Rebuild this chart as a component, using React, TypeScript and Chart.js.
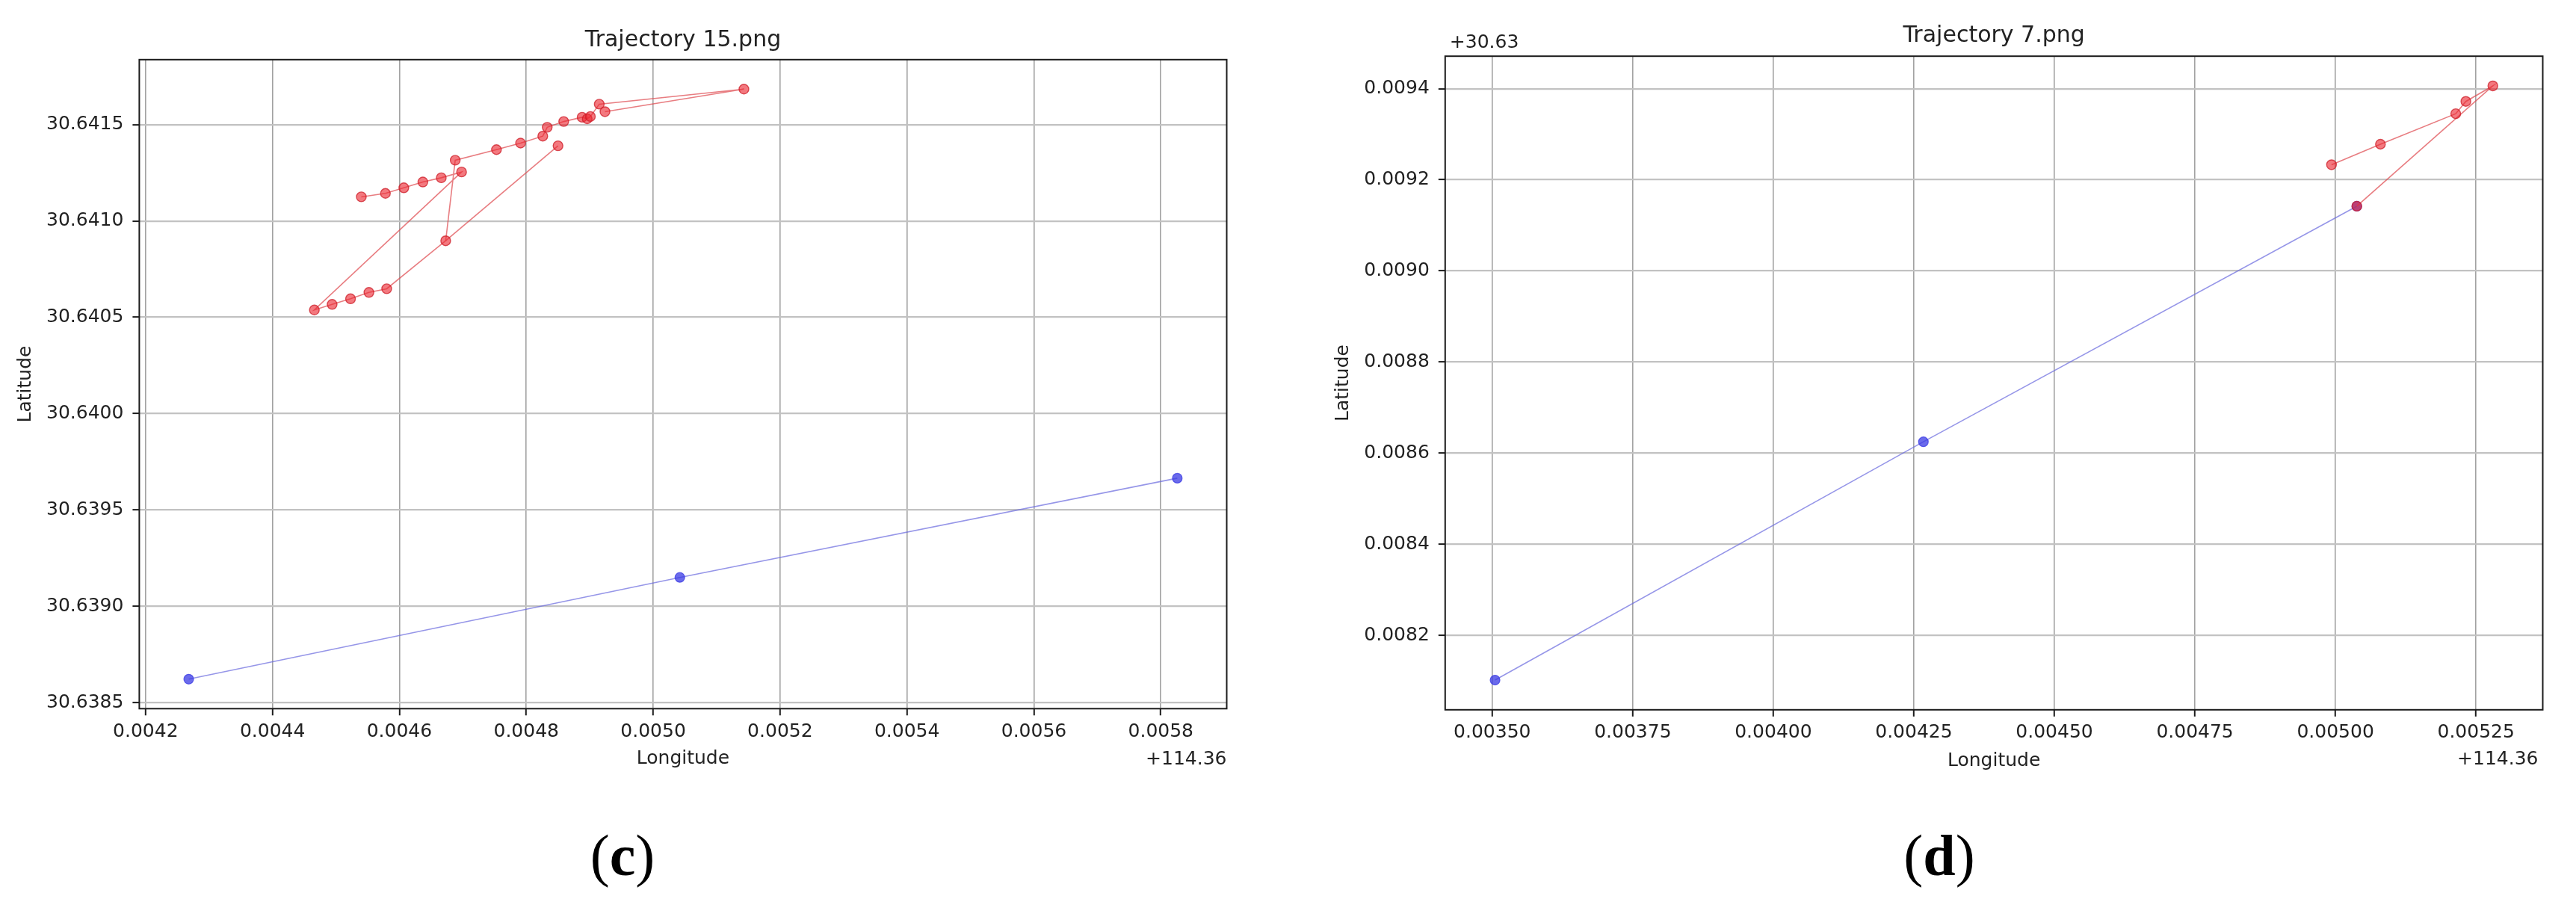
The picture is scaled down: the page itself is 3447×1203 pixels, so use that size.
import React, { useEffect, useRef } from "react";
import { Chart, registerables } from "chart.js";

Chart.register(...registerables);

// ---------- shared offsets (matplotlib offset notation) ----------
const LON_OFFSET = 114.36;
const LAT_OFFSET_D = 30.63;

// ---------- (c) Trajectory 15.png ----------
const cRedLon = [
  114.36454, 114.364578, 114.364607, 114.364637, 114.364666, 114.364698,
  114.364466, 114.364494, 114.364523, 114.364552, 114.36458, 114.364673,
  114.364688, 114.364753, 114.364791, 114.364826, 114.364833, 114.364859,
  114.364888, 114.364896, 114.364901, 114.364915, 114.365143, 114.364924,
];
const cRedLat = [
  30.641125, 30.641143, 30.641172, 30.641202, 30.641224, 30.641254,
  30.640538, 30.640567, 30.640596, 30.640629, 30.640648, 30.640897,
  30.641315, 30.64137, 30.641404, 30.64144, 30.641486, 30.641516,
  30.641538, 30.64153, 30.641542, 30.641606, 30.641684, 30.641567,
];
// last leg of the red track (from the junction point to the end point)
const cRedTailLon = [114.364673, 114.36485];
const cRedTailLat = [30.640897, 30.64139];
const cBlueLon = [114.364268, 114.365042, 114.365826];
const cBlueLat = [30.638622, 30.63915, 30.639665];
const cXTickLabels = ["0.0042", "0.0044", "0.0046", "0.0048", "0.0050", "0.0052", "0.0054", "0.0056", "0.0058"];
const cYTickLabels = ["30.6385", "30.6390", "30.6395", "30.6400", "30.6405", "30.6410", "30.6415"];

// ---------- (d) Trajectory 7.png ----------
const dRedLon = [114.364993, 114.36508, 114.365214, 114.365232, 114.36528, 114.365038];
const dRedLat = [30.639233, 30.639278, 30.639345, 30.639372, 30.639406, 30.639142];
const dBlueLon = [114.363505, 114.364267, 114.365038];
const dBlueLat = [30.638102, 30.638625, 30.639142];
const dXTickLabels = ["0.00350", "0.00375", "0.00400", "0.00425", "0.00450", "0.00475", "0.00500", "0.00525"];
const dYTickLabels = ["0.0082", "0.0084", "0.0086", "0.0088", "0.0090", "0.0092", "0.0094"];

const FONT = '"DejaVu Sans", "Liberation Sans", sans-serif';
const TEXT = "#222222";
const R = 6.5;

const pts = (xs: number[], ys: number[]) => xs.map((x, i) => ({ x, y: ys[i] }));

function limits(arrs: number[][]) {
  const all = arrs.flat();
  const lo = Math.min(...all);
  const hi = Math.max(...all);
  const m = (hi - lo) * 0.05;
  return [lo - m, hi + m];
}

const RED_PT = "rgba(236,38,48,0.62)";
const RED_EDGE = "rgba(205,30,40,0.75)";
const RED_LINE = "rgba(222,70,75,0.7)";
const BLUE_PT = "rgba(58,58,228,0.75)";
const BLUE_LINE = "rgba(105,105,222,0.7)";

function redSet(data: any[], radius: any = R) {
  return {
    data,
    showLine: true,
    borderColor: RED_LINE,
    borderWidth: 1.6,
    pointRadius: radius,
    pointBackgroundColor: RED_PT,
    pointBorderColor: RED_EDGE,
    pointBorderWidth: 1.4,
    tension: 0,
  };
}
function blueSet(data: any[]) {
  return {
    data,
    showLine: true,
    borderColor: BLUE_LINE,
    borderWidth: 1.6,
    pointRadius: R,
    pointBackgroundColor: BLUE_PT,
    pointBorderColor: BLUE_PT,
    pointBorderWidth: 1.2,
    tension: 0,
  };
}

type Cfg = {
  width: number;
  height: number;
  area: { left: number; top: number; right: number; bottom: number };
  xLim: number[];
  yLim: number[];
  xTickLabels: string[];
  xTickOffset: number;
  yTickLabels: string[];
  yTickOffset: number;
  datasets: any[];
  title: string;
  titleDy: number;
  latDx: number;
  lonDy: number;
  xOffText: string;
  xOffDx: number;
  xOffDy: number;
  yOffText?: string;
  yOffDx?: number;
  yOffDy?: number;
};

function build(canvas: HTMLCanvasElement, c: Cfg) {
  const X_AXIS_H = 100;
  const annot = {
    id: "annot",
    afterDraw(chart: any) {
      const { ctx, chartArea: a } = chart;
      ctx.save();
      ctx.strokeStyle = "#1c1c1c";
      ctx.lineWidth = 2;
      ctx.strokeRect(a.left, a.top, a.right - a.left, a.bottom - a.top);
      ctx.fillStyle = TEXT;
      ctx.textBaseline = "middle";
      ctx.font = `30px ${FONT}`;
      ctx.textAlign = "center";
      ctx.fillText(c.title, (a.left + a.right) / 2, a.top + c.titleDy);
      ctx.font = `25px ${FONT}`;
      ctx.fillText("Longitude", (a.left + a.right) / 2, a.bottom + c.lonDy);
      ctx.textAlign = "right";
      ctx.fillText(c.xOffText, a.right + c.xOffDx, a.bottom + c.xOffDy);
      if (c.yOffText) {
        ctx.textAlign = "left";
        ctx.fillText(c.yOffText, a.left + (c.yOffDx || 0), a.top + (c.yOffDy || 0));
      }
      ctx.save();
      ctx.translate(a.left + c.latDx, (a.top + a.bottom) / 2);
      ctx.rotate(-Math.PI / 2);
      ctx.textAlign = "center";
      ctx.fillText("Latitude", 0, 0);
      ctx.restore();
      ctx.restore();
    },
  };
  return new Chart(canvas, {
    type: "scatter",
    data: { datasets: c.datasets },
    options: {
      responsive: false,
      animation: false,
      events: [],
      layout: {
        padding: {
          left: 0,
          top: c.area.top,
          right: c.width - c.area.right,
          bottom: c.height - c.area.bottom - X_AXIS_H,
        },
      },
      plugins: { legend: { display: false }, tooltip: { enabled: false }, title: { display: false } },
      scales: {
        x: {
          type: "linear",
          min: c.xLim[0],
          max: c.xLim[1],
          afterBuildTicks: (s: any) => {
            s.ticks = c.xTickLabels.map((t) => ({ value: c.xTickOffset + parseFloat(t) }));
          },
          afterFit: (s: any) => {
            s.height = X_AXIS_H;
          },
          ticks: {
            autoSkip: false,
            maxRotation: 0,
            padding: 7,
            color: TEXT,
            font: { family: FONT, size: 25 },
            callback: (_v: any, i: number) => c.xTickLabels[i],
          },
          grid: { color: "#a2a2a2", lineWidth: 1.6, tickLength: 9, tickColor: "#1c1c1c", tickWidth: 2 },
          border: { display: false },
        },
        y: {
          type: "linear",
          min: c.yLim[0],
          max: c.yLim[1],
          afterBuildTicks: (s: any) => {
            s.ticks = c.yTickLabels.map((t) => ({ value: c.yTickOffset + parseFloat(t) }));
          },
          afterFit: (s: any) => {
            s.width = c.area.left;
          },
          ticks: {
            autoSkip: false,
            padding: 12,
            color: TEXT,
            font: { family: FONT, size: 25 },
            callback: (_v: any, i: number) => c.yTickLabels[i],
          },
          grid: { color: "#c2c2c2", lineWidth: 2.2, tickLength: 9, tickColor: "#1c1c1c", tickWidth: 2 },
          border: { display: false },
        },
      },
    } as any,
    plugins: [annot],
  });
}

function Panel(props: { cfg: Cfg; left: number }) {
  const ref = useRef<HTMLCanvasElement>(null);
  useEffect(() => {
    if (!ref.current) return;
    const chart = build(ref.current, props.cfg);
    return () => chart.destroy();
  }, []);
  const { width, height } = props.cfg;
  return (
    <canvas
      ref={ref}
      width={width}
      height={height}
      style={{ position: "absolute", left: props.left, top: 0, width, height }}
    />
  );
}

const cCfg: Cfg = {
  width: 1720,
  height: 1203,
  area: { left: 186.4, top: 79.8, right: 1641.5, bottom: 948.3 },
  xLim: limits([cRedLon, cBlueLon]),
  yLim: limits([cRedLat, cBlueLat]),
  xTickLabels: cXTickLabels,
  xTickOffset: LON_OFFSET,
  yTickLabels: cYTickLabels,
  yTickOffset: 0,
  datasets: [
    redSet(pts(cRedLon, cRedLat)),
    redSet(pts(cRedTailLon, cRedTailLat), [0, R]),
    blueSet(pts(cBlueLon, cBlueLat)),
  ],
  title: "Trajectory 15.png",
  titleDy: -26,
  latDx: -152,
  lonDy: 67,
  xOffText: "+114.36",
  xOffDx: 0,
  xOffDy: 68,
};

const dCfg: Cfg = {
  width: 1727,
  height: 1203,
  area: { left: 213.8, top: 75.2, right: 1682.5, bottom: 949.8 },
  xLim: limits([dRedLon, dBlueLon]),
  yLim: limits([dRedLat, dBlueLat]),
  xTickLabels: dXTickLabels,
  xTickOffset: LON_OFFSET,
  yTickLabels: dYTickLabels,
  yTickOffset: LAT_OFFSET_D,
  datasets: [redSet(pts(dRedLon, dRedLat)), blueSet(pts(dBlueLon, dBlueLat))],
  title: "Trajectory 7.png",
  titleDy: -27,
  latDx: -136,
  lonDy: 69,
  xOffText: "+114.36",
  xOffDx: -6,
  xOffDy: 67,
  yOffText: "+30.63",
  yOffDx: 6,
  yOffDy: -18,
};

const panelLabel: React.CSSProperties = {
  position: "absolute",
  top: 1145,
  transform: "translate(-50%, -50%)",
  font: '78px "Liberation Serif", "DejaVu Serif", serif',
  color: "#000",
  whiteSpace: "nowrap",
  lineHeight: 1,
};

export default function App() {
  return (
    <div
      style={{
        position: "absolute",
        left: 0,
        top: 0,
        width: 3447,
        height: 1203,
        background: "#ffffff",
        overflow: "hidden",
      }}
    >
      <Panel cfg={cCfg} left={0} />
      <Panel cfg={dCfg} left={1720} />
      <div style={{ ...panelLabel, left: 833 }}>
        (<b>c</b>)
      </div>
      <div style={{ ...panelLabel, left: 2595 }}>
        (<b>d</b>)
      </div>
    </div>
  );
}
